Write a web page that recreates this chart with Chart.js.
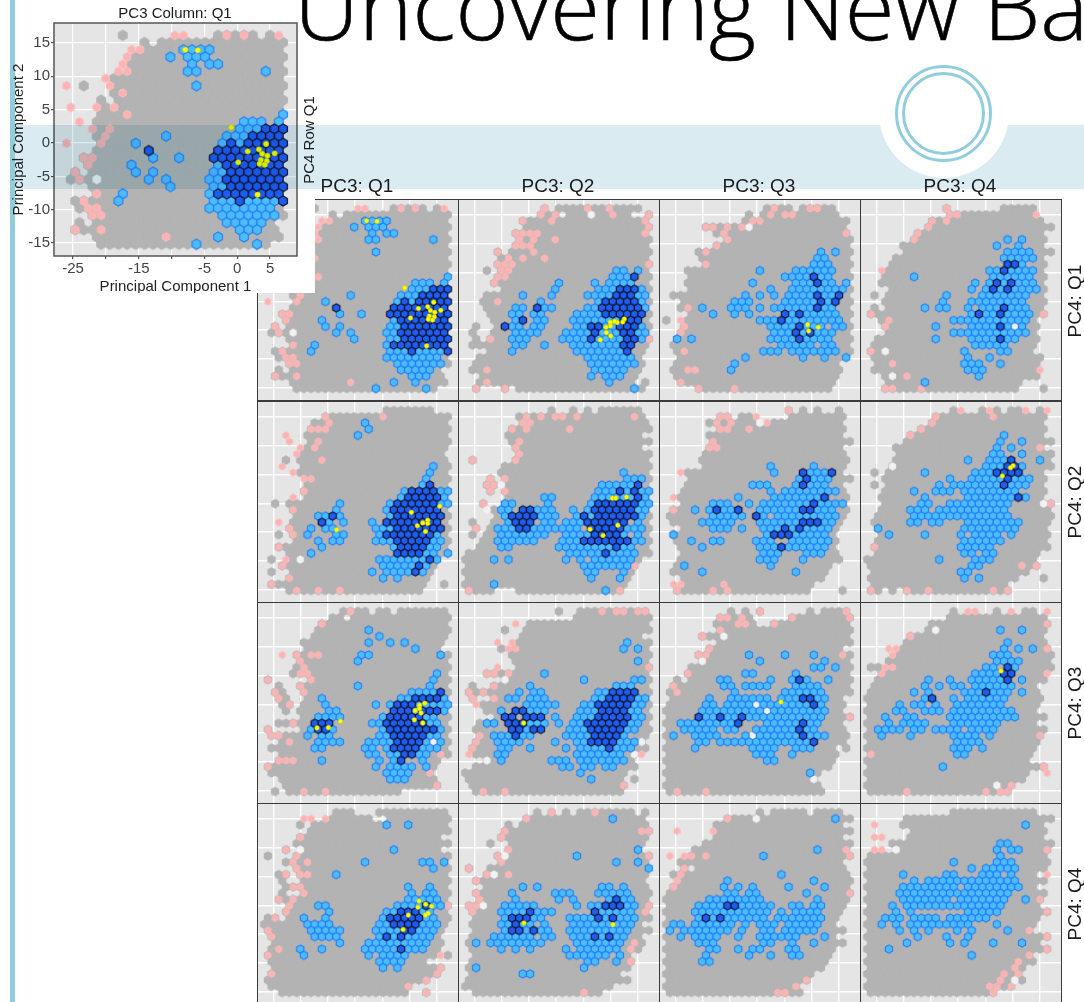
<!DOCTYPE html>
<html lang="en">
<head>
<meta charset="UTF-8">
<title>Uncovering New Ba</title>
<script src="https://cdn.jsdelivr.net/npm/chart.js"></script>
<style>
    html, body { margin: 0; padding: 0; background: #fff; }
    body { position: relative; width: 1084px; height: 1002px; overflow: hidden; font-family: "Liberation Sans", Arial, sans-serif; }
    #stage canvas { position: absolute; z-index: 1; }
    .frame { position: absolute; box-sizing: border-box; border: 1.5px solid #3a3a3a; z-index: 2; }
    #insetBack { position: absolute; left: 15px; top: 0; width: 300px; height: 293px; background: #fff; z-index: 3; }
    #bar { position: absolute; left: 10px; top: 0; width: 5px; height: 1002px; background: #92cddc; z-index: 3; }
    #insetChart { position: absolute; left: 0; top: 0; z-index: 4; }
    #band { position: absolute; left: 15px; top: 125px; width: 1069px; height: 64px; background: #daecf2; mix-blend-mode: multiply; z-index: 5; }
    #blob { position: absolute; left: 879px; top: 48px; width: 130px; height: 130px; border-radius: 50%; background: #fff; z-index: 5; }
    .ring { position: absolute; box-sizing: border-box; border-radius: 50%; border: 3px solid #92cddc; z-index: 6; }
    #headline { position: absolute; left: 294px; top: -57px; font: 300 90.5px "Open Sans", sans-serif; color: #000; white-space: nowrap; z-index: 6; -webkit-text-stroke: 0.6px #000; }
    .strip { position: absolute; font-size: 19px; color: #1a1a1a; white-space: nowrap; z-index: 6; transform: translate(-50%, -50%); }
    .side { transform: translate(-50%, -50%) rotate(-90deg); }
</style>
</head>
<body>
<div id="stage"></div>
<div id="insetBack"></div>
<div id="bar"></div>
<canvas id="insetChart" width="315" height="293"></canvas>
<div id="band"></div>
<div id="blob"></div>
<div class="ring" style="left:895px;top:65px;width:97px;height:97px"></div>
<div class="ring" style="left:902px;top:72px;width:83px;height:83px"></div>
<div id="headline">Uncovering New Ba</div>
<div class="strip" style="left:175px;top:12px;font-size:15px">PC3 Column: Q1</div>
<div class="strip side" style="left:308px;top:140px;font-size:15px">PC4 Row Q1</div>

<script>
// hex bins, "row:col,col-col" (row 0 is the top row)
const gray11 = ["0:7,18-22,24","1:9,11-25","2:10-25","3:8-25","4:8-25","5:8-25","6:6-25","7:2,6-25","8:6-25","9:4,6-25","10:5,7-25","11:4-24","12:4-25","13:4-25","14:4-25","15:4-25","16:4-25","17:2-25","18:3-25","19:1,3-25","20:1-25","21:3-25","22:4-25","23:1-25","24:2-25","25:3-25","26:2,4-24","27:1-24","28:4-25","29:4-23"];
const pink11 = ["0:13,14,19,21,25","2:8,9","3:7","4:7","5:6,7","6:5","7:0,5","8:7","10:1,4,6","11:7","12:2","13:3,5","14:5","15:0,4","17:2,3","18:3","19:1","20:2","22:4","23:2","24:3,4","25:3,4","27:1,4","28:12"];
const pale11 = ["20:4"];
const light11 = ["2:14-17","3:12,14-16","4:15,17,18","5:14,15,23","7:15","11:25","12:21-23,25","13:20-22","14:12,19-21","15:8,18,20","17:10,13","18:8,18","19:8,10,17,18","20:10,12,17,18","21:12,17,18","22:7,17","23:6,17-19,21-24","24:17-24","25:18-24","26:19-23","27:20-22","28:18,21","29:15,22"];
const dark11 = ["13:23-25","14:22-25","15:19,21-25","16:10,18-25","17:17-25","18:19-25","19:19-25","20:19-25","21:19-25","22:18-25","23:20,25"];
const yellow11 = [[-7.9,14],[-6,13.9],[-0.9,2.35],[1.6,-1.25],[3.3,-0.95],[4.4,-0.15],[3.8,-1.6],[4.6,-1.9],[5.7,-1.55],[0.15,-2.9],[3.6,-2.55],[4.5,-2.7],[3.4,-3.1],[4.2,-3.25],[3.1,-7.75]];

const gray12 = ["0:11,13-24","1:10-12,14-22,25","2:8-25","3:8-25","4:7-25","5:7-25","6:7-25","7:4,6-25","8:5-25","9:4-25","10:3,5-25","11:4-25","12:4-25","13:5-25","14:3-25","15:2-25","16:3-25","17:3-25","18:4-25","19:1,4-25","20:1,4-25","21:1,3-25","22:1-25","23:3-24","24:2-24","25:1-24","26:1,2,3-24","27:2-23","28:2-23,25","29:1,5,7-24"];
const pink12 = ["0:11,17,20","1:10,12,20,25","2:8,12,25","3:25","4:7-10,25","5:7,9,12","6:7-9","7:4,9","8:6,8,11","9:4-6,25","10:5,6","11:4,5","12:4","15:4","21:3,25","26:3","28:3","29:1,5"];
const pale12 = ["1:17"];
const light12 = ["10:21,22,24","11:20-22","12:13,18,20-23","13:12,18-20,24","14:8,12,17-20,24,25","15:10,18,24","16:7,8,11,12,17,18,25","17:6,7,9,10,15-18","18:7,10,11,15-21","19:6,7,9,10,15,16,19,20,24","20:7-10,14-17,19-21,24,25","21:6-8,13-16,18-21,24","22:7,8,11,15-21","23:6,15-21","24:17-23","25:17-23","26:18-22","27:17,19-21","28:20","29:23"];
const dark12 = ["11:23","13:21-23","14:21-23","15:19-23","16:10,19-24","17:19-24","18:8,22-24","19:5,17,18,21-23","20:18,22,23","21:17,22,23","22:22,23","23:22"];
const yellow12 = [[2.5,-3.07],[2.2,-3.6],[1.2,-3.7],[0.67,-3.48],[-0.07,-3.65],[-0.07,-4.3],[-0.86,-4.5],[-0.8,-5.45],[0,-6.03],[-1.9,-6.7]];

const gray13 = ["0:14-17,19-23","1:11,13-23","2:11-25","3:5-24","4:7-25","5:8-25","6:7-25","7:4-25","8:5-25","9:5-25","10:3-25","11:3-25","12:3-25","13:3-25","14:1-25","15:2-25","16:2-25","17:3-25","18:0,3-25","19:2-25","20:2-25","21:1-25","22:1-25","23:1-25","24:2-24","25:1-23","26:1-24","27:1-23","28:2-23","29:4-22"];
const pink13 = ["0:15,20,21","1:14,16,17","2:12,13","3:5,6,8,10","4:8,25","5:8","6:7","7:5","9:5","16:3","18:2","19:2","20:2","23:2","26:3,4","28:2","29:4,9"];
const pale13 = ["3:11"];
const light13 = ["7:21,23","8:21,22","9:20-22","10:13,18-23","11:16-19,21,22","12:12,18-20,22,23,25","13:14,17-24","14:11,13,15,17-20,22,23","15:9-11,16-20,22","16:5,9-11,13,15-23","17:6,9,11,17,19-23","18:13-15,17-24","19:14-17,19-21,23,24","20:15-17,19,21-23","21:1,3,14-17,19-22","22:16-20,22,23","23:13-15,17-23","24:11,19,22,25","25:9","26:9"];
const dark13 = ["11:20","12:21","14:21,24","15:21,23","16:21","17:16,18","18:16","19:18","20:18,20","21:18"];
const yellow13 = [[-0.74,-4.05],[1.2,-4.5],[-0.56,-5.16]];

const gray14 = ["0:11,19-23","1:11-13,14-22","2:9-24","3:8-25","4:7-24","5:6-24","6:5-24","7:5-25","8:4-24","9:3-24","10:3-24","11:2-24","12:2-24","13:3-24","14:1,3-24","15:2-24","16:1,3-24","17:0-24","18:2-23","19:2-23","20:3-23","21:1-23","22:1-23","23:0-22","24:1-24","25:1-23","26:1-23","27:2-23","28:3-21","29:2-20,24"];
const pink14 = ["0:11","1:11,12,23","2:9,11","3:8","4:7","5:6","10:2","17:0,24","18:3","19:2","23:0","25:3","26:24","27:5","29:2,3,7"];
const pale14 = ["19:20","23:2","27:3"];
const light14 = ["5:19,21","6:18,21","7:19-22","8:19-23","9:21","10:17,18,20-23","11:6,17-22","12:15,17,19,21-23","13:14,16,18,20-23","14:11,16-22","15:10,14-21","16:8,10,11,14,16-18,20-22","17:14,16,17,19-22","18:12-22","19:9,14-17,19,21","20:12-22","21:9,14-17,19,20","22:15-19","23:13,18,19","24:14,17","25:13-15,18","26:14-16","27:15","28:8"];
const dark14 = ["9:19,20","10:19","12:18,20","13:17,19","16:19","17:15,18","19:18","21:18"];
const yellow14 = [];

const gray21 = ["0:17-22,23","1:8-25","2:7-25","3:6-25","4:6-25","5:6-25","6:6-25","7:5-24","8:3,5-25","9:5-25","10:5-25","11:6-25","12:6-25","13:5-25","14:6-25","15:1,3-25","16:4-25","17:4-25","18:4-25","19:3-25","20:2,4-25","21:4-25","22:2-25","23:3-25","24:1,4-24","25:2-23","26:1,4-23","27:3-22","28:1-22,25","29:3-21"];
const pink21 = ["1:8,16","2:9","3:6-8","4:3","5:3,7","6:5,7","7:4","8:8","9:2","10:4","11:5,6","13:5","14:4","16:4","18:2","19:3","20:4","22:2","24:3","25:2","27:3","28:1","29:4,7,10"];
const pale21 = ["24:5"];
const light21 = ["2:14","3:14","4:13","9:23","10:23","11:22","12:22","13:19,24,25","14:19,25","15:10,17,24,25","16:10,17","17:7,8,10,17","18:9,11,15","19:6,8,9,15-17","20:6,10,11,16,24","21:7,9,10,15-17,23,24","22:8,18,23,24","23:6,22,23,25","24:16-22,24","25:16-20,22","26:15,17-20,22","27:16,18"];
const dark21 = ["12:23","13:20-23","14:20-24","15:18-23","16:18-24","17:9,18-24","18:8,17-24","19:18-24","20:17-23","21:18-22","22:19-22","23:18-21","24:23","25:21","26:21"];
const yellow21 = [[0.3,-1.56],[5.5,-0.5],[-13.4,-4.6],[3.3,-2.95],[3.3,-3.5],[2.4,-3.4],[1.4,-3.9],[2.9,-4.9]];

const gray22 = ["0:12,15,17,19-24","1:7-24","2:8-25","3:6-25","4:6-24","5:6-25","6:7-24","7:7-25","8:1,7-25","9:5-25","10:5-25","11:3,5-25","12:3,4,6-25","13:3,5-25","14:6-25","15:2,5-25","16:4-25","17:4-25","18:1,4-25","19:1,3-25","20:1,3-25","21:2-25","22:2-25","23:0-25","24:0-24","25:0-23","26:0-23","27:0-22","28:0-22","29:0-3,7-21"];
const pink22 = ["1:8,10,12,13,15,23","2:8,9","3:6,8,14","5:7","6:7","7:7","8:1,7","11:3,5","12:3,4","13:3,5","15:2","19:1","25:23","29:0,21"];
const pale22 = ["12:5","16:3"];
const light22 = ["10:22","11:22-24","12:19-23","13:18-20,22,24,25","14:11,12,18-23,25","15:5,6,11,17,24,25","16:5,6,10-12,15,17,24,25","17:5,10-12,15,17,24","18:6,11,12,14-16,24","19:4-6,9-15,22-24","20:5-11,14-17,22,24","21:4-9,13-15,23,24","22:5,6,13-20,22,23","23:14-18,20-23","24:4,6,14,16,18-23","25:16-22","26:17,18,22","27:17,21","28:4","29:19"];
const dark22 = ["12:24","13:21,23","14:24","15:18-23","16:8,9,18-23","17:6-9,16,18-23","18:7-9,17-22","19:7,8,17-21","20:18-21","21:16-22","22:21","23:19"];
const yellow22 = [[0.3,0.9],[0.9,0.9],[2.9,1.1],[1.3,-3.8],[-3.8,-4.5],[-1.4,-5.6]];

const gray23 = ["0:17,19,21,24","1:7,8,10,11,17-24","2:6-12,15-24","3:7-24","4:6-24","5:6-25","6:6-24","7:5-24","8:5-25","9:5-24","10:3-24","11:3-25","12:3-24","13:2-24","14:2-25","15:2-24","16:1-25","17:0-24","18:1-24","19:2-23","20:1-23","21:1-23","22:2-23","23:2-23","24:2-24","25:1-22","26:1-22","27:2-21","28:3-20","29:1-19,24"];
const pink23 = ["0:17","1:7,8,12","2:7,9,14","3:7,8,11","5:6","6:6,7","10:2","14:1","16:1","28:1,2,8","29:1,6,8"];
const pale23 = ["2:13"];
const light23 = ["9:14,20","10:15,20-22","11:18,20-22","12:12-14,18,20-22","13:14,16-23","14:10,15-20,21","15:6-8,11,13-19,21-24","16:4,6,8,9,13-18,21-23","17:6-8,9,10,13,15-23","18:5-9,13-18,22,23","19:6-8,10,13-15,17,19-22","20:1,14,18-22","21:3,6,7,12-14,17-22","22:5,13-15,17-22","23:13-15,19-21","24:13-15,19","25:2,14","26:5,18"];
const dark23 = ["10:19,23","11:19","12:19","14:22","15:20","16:7,10,19,20","17:12","18:19-21","19:16,18","20:15-17","22:16"];
const yellow23 = [];

const gray24 = ["0:12,16,18,20,21,24","1:9-24","2:9-24","3:7-24","4:6-24","5:5-25","6:4-24","7:4-25","8:4-25","9:3-25","10:1,3-24","11:2-24","12:1,3-24","13:2-24","14:2-24","15:2-25","16:2-25","17:1-25","18:1-25","19:1-24","20:2-25","21:1-24","22:1-25","23:1-23","24:0-23","25:0-23","26:1-22","27:0-20,24","28:1-19","29:0,1,3,5-19"];
const pink24 = ["0:13,17,22,25","1:9,17","2:9","3:7","4:6","6:24","15:25","22:1","25:21,23","29:0,5,8,17,19"];
const pale24 = ["9:3","15:24"];
const light24 = ["4:19","5:18,21","6:18,20","7:17,18,21","8:14,17-19,24","9:16-18,21","10:8,15-17,21","11:11,14-18,20-22","12:10,12,13,14-18,20-22","13:6,9-11,13-20","14:8,14-20,22","15:7,8,11,12,13-19","16:6-8,10-19","17:6-19","18:6,7,9,10,14-21","19:1,13-20","20:3,8,13,15-18,20","21:13-18","22:13-17","23:13,14,16,17","24:10,15-17","25:14,15","26:13,14","27:13,15"];
const dark24 = ["8:20","9:19,20","10:18-21","11:19","12:19","14:21"];
const yellow24 = [[0.06,6.55],[-0.4,6.2],[-1.9,4.76]];

const gray31 = ["0:11-14,16,17,19-25","1:9,10,12-25","2:8-25","3:7-25","4:7-25","5:5-24","6:6-24","7:4-25","8:5-25","9:4-25","10:4-25","11:0,6-25","12:2,5-25","13:1,2,5-25","14:2,3,6-25","15:2,3,5-25","16:3,5-25","17:5-25","18:2-25","19:0,5-25","20:1-25","21:2-25","22:1-25","23:2-25","24:2-24","25:0,1-23","26:1-23","27:2-23","28:3-23,24","29:1,3-18"];
const pink31 = ["0:12","2:8","7:2,4,6,7","8:5","9:5","10:5,6","11:0,6","12:5","13:1,5","14:2","15:3","18:4","19:0","20:1,2","21:3","23:24","24:2-4","25:0","26:23","28:24","29:5,8"];
const pale31 = ["21:23"];
const light31 = ["3:14","4:16","5:14,17,19","6:21","7:13,14,24","8:13","10:24","11:23","12:13,23","13:20-23","14:8,19,20,25","15:8,15,17,21-25","16:9,10,21,25","17:7-10,16,22,23","18:15,16,23,24","19:6,9,16,24","20:6,8,9,16,17,23,24","21:7-10,14-17,22,24","22:7,8,14,15,17,22-24","23:14,15,17,18,21,22","24:8,16,18,22","25:15,17-20,22","26:17-20","27:17-19"];
const dark31 = ["13:24","14:21-24","15:18-20","16:18-20,22-24","17:17-21","18:7-9,17-22","19:7,8,17-23","20:18-22","21:18-21","22:18-21","23:19,20","24:19"];
const yellow31 = [[-17,-4.1],[-14.9,-4.05],[-12.7,-2.95],[2.75,0.2],[1.8,-0.17],[1.8,-0.75],[1,-1.1],[2.07,-1.5],[0.85,-2.7],[2.4,-3.24]];

const gray32 = ["0:13,16-25","1:15-25","2:9-25","3:5,8-25","4:8-24","5:7-25","6:5,7-25","7:6-25","8:7-25","9:7-25","10:3-25","11:5-25","12:1,4-25","13:0-25","14:1,4-25","15:2-25","16:3-25","17:4-25","18:2-25","19:1-25","20:2-25","21:1-24","22:1-25","23:1-23","24:3-23","25:1-23","26:0-22","27:0-21,23","28:1-22","29:1,2,3-21"];
const pink32 = ["0:19,21,22,24,25","2:7","5:4,6","6:6,7","9:4,25","10:3,4,6","12:4","13:0,2","14:1,4","15:1","20:2","21:1","22:1","23:0,24","28:22","29:2,5"];
const pale32 = ["11:5","21:24","23:23","24:3"];
const light32 = ["5:22","6:22,24","8:24","10:11","11:16,23,24","12:9,21-23","13:7,9,10,18,19","14:6,7,9-11,18,19,24,25","15:8-12,16,17,23,24","16:5,9,10,11,16-18,23,24","17:6,12,15-17,23,24","18:3,4,9,10,11,13,15,16,23,24","19:8,14-16,22,23","20:4-6,8,9,14-17,22","21:4-7,12,15,16,21-23","22:5,6,9,14,16-19,21-23","23:4,5,15-21","24:5,12-14,16-22","25:13,14,16,17,19,20","26:16","27:17"];
const dark32 = ["13:20-23","14:20-23","15:18-22","16:7,8,19-22","17:5,6,8-10,18-22","18:6-8,17-22","19:6,7,9,10,17-21","20:7,18-21","21:17-20","22:20"];
const yellow32 = [[-15.96,-3.24]];

const gray33 = ["0:9,11,13,20,22-25","1:7-11,17-25","2:7-12,15-25","3:7-25","4:5-25","5:7-25","6:6-24","7:4-25","8:5-25","9:3-25","10:3-25","11:1,3-25","12:1-25","13:0-25","14:1-24","15:0-24","16:0-24","17:0-25","18:0-24","19:0-24","20:0-25","21:0-24","22:0-23,25","23:0-23","24:0-23","25:0-22","26:0-21","27:0-20","28:0-21","29:0-21"];
const pink33 = ["0:13,25","1:7,8,10,17,25","2:10,11,15","3:7","4:5","6:6","7:4,5,24","10:3","12:1","13:1","17:25","29:1,5"];
const pale33 = ["4:8","8:5","15:12","16:14","20:12","27:20"];
const light33 = ["7:11,16,20","8:13,22","9:20,21,23","10:11,12,18","11:7,8,14,17,19,22","12:8,9,11-14,18-21","13:9,16-21","14:6,9-14,16-18,21,22","15:5,6,8-11,13,14,15-19,21","16:5-7,8-13,15-22","17:5,6,8,9,11-21","18:2-9,14-18,20,21","19:2-6,8,9,12-17,19,20","20:1,4-7,11,13-18,20-22","21:4,5,7-19","22:4,12-15,18-20","23:12-14,17","24:14,15","26:20"];
const dark33 = ["11:18","14:19,20","15:20","17:4,7,10","18:10,19","19:18","20:19","21:20"];
const yellow33 = [[-5.63,0.4]];

const gray34 = ["0:12,18,22,23","1:11-24","2:9-25","3:8-24","4:6-24","5:5-24","6:5-25","7:4-25","8:3-25","9:0,1,3-25","10:2-24","11:1-24","12:1-23","13:0-23","14:0-24","15:0-23","16:0-23","17:0-24","18:0-23","19:0-24","20:0-24","21:0-23","22:0-23","23:0-22","24:0-22","25:0-24","26:0-22","27:0-21","28:0-20","29:0-19"];
const pink34 = ["0:14,15,20,25","2:25","4:6","6:3,4,25","7:3","9:2,3","10:2,25","20:24","23:0","25:24","26:25","28:20","29:5,16,18,19"];
const pale34 = ["3:9","28:18"];
const light34 = ["3:18,21","5:19","6:19,21,23","7:17-19","8:18-21","9:16,17,20","10:15-18","11:8,11,14-18,21","12:8,10,12,13,15-20","13:6,8,13-15,17-19,21","14:8,12,14-19","15:4,6,7,9,12-18","16:4,5,8-10,12-20","17:2,5,6,11,12-20","18:3,5-8,12-18","19:1-4,6,7,9-12,14-17","20:2,6,12-15,17","21:12-15","22:12-14,16","23:12,13","25:10"];
const dark34 = ["9:19","10:19,20","11:19","13:16","14:9"];
const yellow34 = [[-2.14,5.8]];

const gray41 = ["0:10-12,16-25","1:9-14,17-25","2:5,7-25","3:6-25","4:5-24","5:4-25","6:3,6-24","7:0,4-25","8:3-25","9:4-25","10:2,3,5-25","11:2,5-25","12:3-25","13:2,5-25","14:2-25","15:3-25","16:3-25","17:0,1,3-25","18:0-25","19:0-24","20:1-24","21:1-24","22:1-24","23:0-23,25","24:1-22","25:1-24","26:1-24","27:0-22","28:1-20","29:2-19,22"];
const pink41 = ["1:5,6,8","4:5","6:3","7:4","8:4,6","9:4","10:3,5,6","12:4,5","13:5","14:2,4","15:3,25","16:3","17:1","19:0","20:1","22:2","23:0,24","25:24","26:1,24","27:22","28:20","29:22"];
const pale41 = ["6:5"];
const light41 = ["2:17,20","6:18","8:14,22,23,25","9:23","10:10","12:20,23","13:20,22,23","14:20-24","15:7,8,18-21,23,24","16:9,17,18,22,23","17:5,8,16,22,23","18:6-9,16,17,22-24","19:6-10,15-18,21-23","20:7-10,16,18,20-23","21:10,14-22","22:5,8,14-18,20-22","23:5,14,16-19","24:16-19","25:16,18"];
const dark41 = ["15:22","16:19-21","17:17-21","18:18-21","19:19,20","20:17,19","22:19"];
const yellow41 = [[1.7,0.76],[2.93,0.2],[4,-0.17],[1.5,-0.34],[3.36,-1.4],[2.87,-1.7],[-0.25,-1.7],[-1.23,-4.2]];

const gray42 = ["0:10,12,14,16-23,25","1:8-24","2:6,8-25","3:5-25","4:5-25","5:3,6-24","6:6-24","7:4,6-25","8:5-25","9:0,3-24","10:3,5-25","11:1-24","12:3-25","13:1-25","14:2-25","15:0-25","16:1-25","17:1-25","18:1-24","19:1-25","20:1-24","21:0-24","22:1-24","23:1-22","24:1-23","25:0-22","26:1-21","27:0-21,22","28:0-20","29:1-18"];
const pink42 = ["0:12,18","1:8","3:5,24,25","4:5","6:6","7:4,25","8:5","9:0","10:3,6","11:1","13:1","14:2","15:0,1,25","16:1,25","21:23","22:23","24:23","29:16"];
const pale42 = ["7:5","10:4","15:2"];
const light42 = ["1:20","6:24","7:15","8:21,24","9:25","12:8,10,19,20,22","13:6,12-14,18-22","14:7,13,15,20,22,23","15:5-9,15,17,18,22,23","16:5-8,10-12,19-23","17:5,9,10,14-17,19,21-23","18:5,6,8,9,11,15-23","19:5,8,10,11,14-22","20:4-9,11,12,15-17,19,21,22","21:1,3-10,15-21","22:5,7,9,14,16-21","23:14-19,21","24:17,18,21","25:1,16","26:8,9"];
const dark42 = ["14:21","15:19-21","16:9,18","17:6-8,18,20","18:7","19:6,7,9","20:18,20"];
const yellow42 = [[-15.9,-3.07],[0.4,-3.36]];

const gray43 = ["0:13,15-19,21-24","1:8-25","2:7-24","3:7-25","4:7-24","5:5-25","6:4-25","7:3-25","8:2-24","9:2,4-24","10:1-25","11:2-25","12:1-25","13:0-25","14:0-25","15:0-24","16:0-24","17:0-23","18:0-23","19:0-24","20:0-23","21:0-24","22:0-23","23:0-22","24:0-22","25:0-21","26:0-20","27:0-19","28:0-18","29:0-18"];
const pink43 = ["1:8","3:1,6","7:0,2,3,5,25","6:25","9:2","10:2","11:1","12:1","13:25","27:19","28:18","29:15,16"];
const pale43 = ["1:12"];
const light43 = ["1:23","6:21","7:13","10:16","11:8,20","12:8,10,12,17,22","13:8,9,11,12,19","14:6-13,21","15:4-7,10-14,17,18,20,21","16:4-13,14,16,18-21","17:4,6,8-13,15-21","18:1,2,4-9,11,13-15,17-21","19:0,2-8,10,13,14,16-20","20:2,4-7,10,13-18,22","21:4-6,13,14,17,20","22:6,7,10,12,13,17,18","23:5,11,14,17,18","24:5,6"];
const dark43 = ["15:8,9","17:5,7"];
const yellow43 = [];

const gray44 = ["0:12-23","1:5-25","2:5-24","3:6-24","4:6-24","5:3-25","6:5-25","7:0-24","8:0-25","9:0-24","10:0-23","11:0-24","12:0-23","13:0-24","14:0-24","15:0-23","16:0-25","17:0-23","18:0-23","19:0-22","20:0-25","21:0-23","22:0-25","23:0-22","24:0-23","25:0-21","26:0-21","27:0-19,21","28:0-20","29:0-17"];
const pink44 = ["2:1","4:1,2","6:1,2,25","14:24","10:25","16:25","19:22","20:25","22:25","23:22","24:21","25:20","26:19,21","27:18","28:17,18,20","29:17"];
const pale44 = ["6:4","27:20"];
const light44 = ["2:22","5:18,19","6:18,20,21","7:18","8:12,18-20","9:14,16-20","10:5,11,12,16-18,20","11:6,8-20","12:5-12,14-21","13:4-19","14:5-11,13-19,22","15:3,5-18","16:4,6,14-18","17:2-4,6-9,11-16","18:2,4,6-14,18","19:4,6,8,12,14,19","20:7,11,14","21:5,11,13,17,21","22:3","23:14"];
const dark44 = [];
const yellow44 = [];

const pcLabels = ["PC3: Q1", "PC3: Q2", "PC3: Q3", "PC3: Q4"];
const rowLabels = ["PC4: Q1", "PC4: Q2", "PC4: Q3", "PC4: Q4"];
const xGrid = [-25, -20, -15, -10, -5, 0, 5];
const yGrid = [-15, -10, -5, 0, 5, 10, 15];
const xTickText = [-25, -15, -5, 0, 5];

const panels = [
    [gray11, pink11, pale11, light11, dark11, yellow11], [gray12, pink12, pale12, light12, dark12, yellow12],
    [gray13, pink13, pale13, light13, dark13, yellow13], [gray14, pink14, pale14, light14, dark14, yellow14],
    [gray21, pink21, pale21, light21, dark21, yellow21], [gray22, pink22, pale22, light22, dark22, yellow22],
    [gray23, pink23, pale23, light23, dark23, yellow23], [gray24, pink24, pale24, light24, dark24, yellow24],
    [gray31, pink31, pale31, light31, dark31, yellow31], [gray32, pink32, pale32, light32, dark32, yellow32],
    [gray33, pink33, pale33, light33, dark33, yellow33], [gray34, pink34, pale34, light34, dark34, yellow34],
    [gray41, pink41, pale41, light41, dark41, yellow41], [gray42, pink42, pale42, light42, dark42, yellow42],
    [gray43, pink43, pale43, light43, dark43, yellow43], [gray44, pink44, pale44, light44, dark44, yellow44]
];

// row/col of a hexbin to its centre in PC1/PC2 units
function binsToPoints(rows) {
    const pts = [];
    rows.forEach(line => {
        const [r, cols] = line.split(':');
        const row = +r;
        cols.split(',').forEach(part => {
            const [a, b] = part.split('-').map(Number);
            for (let k = a; k <= (b === undefined ? a : b); k++) {
                pts.push({ x: -26 + 1.319 * (row % 2 ? k : k - 0.5), y: 16.15 - 1.08 * row });
            }
        });
    });
    return pts;
}

// pointy top hexagon as a point style
function hexImage(size, fill, stroke, lw) {
    const c = document.createElement('canvas');
    c.width = c.height = Math.ceil(size * 1.2 + lw + 4);
    const g = c.getContext('2d');
    const R = size / Math.sqrt(3);
    g.translate(c.width / 2, c.height / 2);
    g.beginPath();
    for (let i = 0; i < 6; i++) {
        const a = Math.PI / 6 + i * Math.PI / 3;
        g.lineTo(R * Math.cos(a), R * Math.sin(a));
    }
    g.closePath();
    g.fillStyle = fill;
    g.fill();
    if (lw) {
        g.lineWidth = lw;
        g.strokeStyle = stroke;
        g.stroke();
    }
    return c;
}

function datasets(p, hex, dot) {
    const styles = [
        hexImage(hex, '#b3b3b3', '#b3b3b3', 1.1),
        hexImage(hex * 0.9, '#ffb3b3', '#f7c0c0', 0.6),
        hexImage(hex * 0.95, '#f2f2f2', '#f2f2f2', 0.4),
        hexImage(hex, '#4dbbff', '#2280f7', 1.1),
        hexImage(hex, '#1c5ef5', '#10162e', 1.2)
    ];
    const sets = styles.map((st, i) => ({
        data: binsToPoints(p[i]),
        pointStyle: st,
        order: 6 - i
    }));
    sets.push({
        data: p[5].map(v => ({ x: v[0], y: v[1] })),
        pointStyle: 'circle',
        pointRadius: dot,
        pointBackgroundColor: '#ffff00',
        pointBorderColor: '#c8c800',
        pointBorderWidth: 0.6,
        order: 0
    });
    return sets;
}

const backdrop = {
    id: 'backdrop',
    beforeDraw(chart) {
        const a = chart.chartArea;
        chart.ctx.fillStyle = '#e5e5e5';
        chart.ctx.fillRect(a.left, a.top, a.right - a.left, a.bottom - a.top);
    }
};

const setTicks = vals => scale => { scale.ticks = vals.map(v => ({ value: v })); };

const stage = document.getElementById('stage');
const panelX = [257, 458, 659, 860];
const panelY = [199, 400.5, 601.5, 803];

panels.forEach((p, i) => {
    const col = i % 4, row = Math.floor(i / 4);
    const cv = document.createElement('canvas');
    cv.width = 201;
    cv.height = 201;
    cv.style.left = panelX[col] + 'px';
    cv.style.top = panelY[row] + 'px';
    stage.appendChild(cv);
    new Chart(cv.getContext('2d'), {
        type: 'scatter',
        data: { datasets: datasets(p, 7.2, 2.3) },
        plugins: [backdrop],
        options: {
            responsive: false,
            animation: false,
            events: [],
            layout: { padding: 0, autoPadding: false },
            plugins: { legend: { display: false }, tooltip: { enabled: false } },
            scales: {
                x: { min: -28, max: 8.85, afterBuildTicks: setTicks(xGrid), border: { display: false },
                     ticks: { display: false }, grid: { color: '#ffffff', lineWidth: 1.4, drawTicks: false } },
                y: { min: -17.16, max: 17.8, afterBuildTicks: setTicks(yGrid), border: { display: false },
                     ticks: { display: false }, grid: { color: '#ffffff', lineWidth: 1.4, drawTicks: false } }
            }
        }
    });
    const fr = document.createElement('div');
    fr.className = 'frame';
    fr.style.cssText = `left:${panelX[col]}px;top:${panelY[row]}px;width:202px;height:202px`;
    stage.appendChild(fr);
});

pcLabels.forEach((t, i) => {
    const d = document.createElement('div');
    d.className = 'strip';
    d.textContent = t;
    d.style.left = (357 + 201 * i) + 'px';
    d.style.top = '186px';
    document.body.appendChild(d);
});
rowLabels.forEach((t, i) => {
    const d = document.createElement('div');
    d.className = 'strip side';
    d.textContent = t;
    d.style.left = '1075px';
    d.style.top = (301 + 201 * i) + 'px';
    document.body.appendChild(d);
});

// the zoomed copy of panel PC3 Q1 / PC4 Q1
new Chart(document.getElementById('insetChart').getContext('2d'), {
    type: 'scatter',
    data: { datasets: datasets(panels[0], 8.67, 2.7) },
    plugins: [backdrop, {
        id: 'insetFrame',
        afterDraw(chart) {
            const a = chart.chartArea;
            chart.ctx.strokeStyle = '#555555';
            chart.ctx.lineWidth = 1.5;
            chart.ctx.strokeRect(a.left, a.top, a.right - a.left, a.bottom - a.top);
        }
    }],
    options: {
        responsive: false,
        animation: false,
        events: [],
        layout: { padding: { top: 23, right: 18, left: 0, bottom: 0 }, autoPadding: false },
        plugins: { legend: { display: false }, tooltip: { enabled: false } },
        scales: {
            x: {
                min: -27.9, max: 9.1,
                afterBuildTicks: setTicks(xGrid),
                afterFit(s) { s.height = 37; },
                border: { display: false },
                grid: { color: '#ffffff', lineWidth: 1.2, tickColor: '#555555', tickLength: 3 },
                ticks: {
                    autoSkip: false, maxRotation: 0, padding: 1, color: '#444444',
                    font: { family: 'Liberation Sans', size: 15 },
                    callback: v => xTickText.includes(v) ? String(v) : ''
                },
                title: { display: true, text: 'Principal Component 1', color: '#222222', padding: { top: 0, bottom: -3 },
                         font: { family: 'Liberation Sans', size: 15 } }
            },
            y: {
                min: -16.94, max: 18,
                afterBuildTicks: setTicks(yGrid),
                afterFit(s) { s.width = 54; },
                border: { display: false },
                grid: { color: '#ffffff', lineWidth: 1.2, tickColor: '#555555', tickLength: 3 },
                ticks: { autoSkip: false, padding: 1, color: '#444444', font: { family: 'Liberation Sans', size: 15 } },
                title: { display: true, text: 'Principal Component 2', color: '#222222', padding: { top: 10, bottom: 0 },
                         font: { family: 'Liberation Sans', size: 15 } }
            }
        }
    }
});
</script>
</body>
</html>
